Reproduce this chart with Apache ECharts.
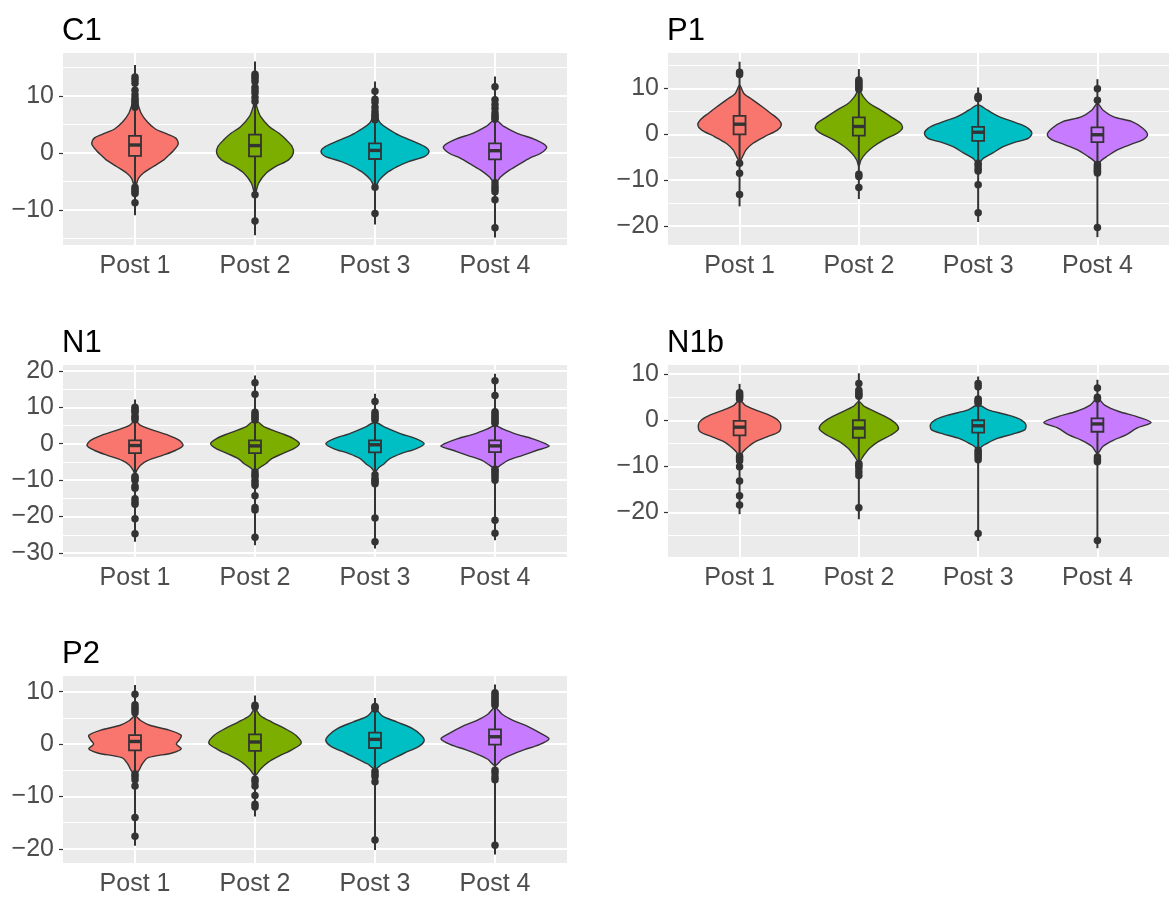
<!DOCTYPE html>
<html>
<head>
<meta charset="utf-8">
<script src="https://cdn.jsdelivr.net/npm/echarts@6/dist/echarts.min.js"></script>
<style>
  html, body { margin: 0; padding: 0; background: #fff; }
  #chart { width: 1169px; height: 897px; }
</style>
</head>
<body>
<div id="chart"></div>
<script>
const categories = ['Post 1', 'Post 2', 'Post 3', 'Post 4'];
const panelNames = ['C1', 'P1', 'N1', 'N1b', 'P2'];
const fillColors = ['#F8766D', '#7CAE00', '#00BFC4', '#C77CFF'];

// y range of each panel and its tick values
const yRanges = [[-16.1, 17.5], [-24.1, 17.7], [-31.1, 21.6], [-29.7, 12.0], [-22.7, 13.0]];
const majorTicks = [[-10, 0, 10], [-20, -10, 0, 10], [-30, -20, -10, 0, 10, 20], [-20, -10, 0, 10], [-20, -10, 0, 10]];
const minorTicks = [[-15, -5, 5, 15], [-15, -5, 5, 15], [-25, -15, -5, 5, 15], [-25, -15, -5, 5], [-15, -5, 5]];

// violin outline per group: [value, half width in category units], bottom to top
const c1Violins = [
    [[-5.9, 0], [-4.4, 0.03], [-3.5, 0.07], [-2.4, 0.15], [-1.2, 0.24], [-0.6, 0.27], [0.4, 0.32], [1.6, 0.36], [2.6, 0.34], [3.3, 0.27], [4.2, 0.17], [5.5, 0.1], [7.0, 0.05], [8.5, 0.025], [9.6, 0]],
    [[-7.1, 0], [-5.3, 0.03], [-3.6, 0.09], [-2.4, 0.17], [-1.2, 0.28], [0, 0.32], [1.1, 0.31], [2.3, 0.26], [3.45, 0.2], [4.6, 0.12], [6.4, 0.046], [8.1, 0.015], [9.3, 0]],
    [[-5.9, 0], [-4.7, 0.037], [-3.6, 0.09], [-2.4, 0.185], [-1.5, 0.28], [-0.6, 0.415], [0.2, 0.45], [1.1, 0.415], [2.3, 0.29], [3.45, 0.17], [5.2, 0.046], [7.0, 0]],
    [[-5.3, 0], [-4.2, 0.046], [-3.0, 0.12], [-1.8, 0.215], [-0.9, 0.29], [0, 0.385], [1.1, 0.43], [2.3, 0.34], [3.45, 0.185], [4.6, 0.077], [5.8, 0]]
];
const p1Violins = [
    [[-5.9, 0], [-4.9, 0.024], [-3.4, 0.054], [-2.0, 0.11], [-0.5, 0.21], [0.9, 0.317], [2.0, 0.35], [3.1, 0.33], [4.6, 0.26], [6.0, 0.19], [7.5, 0.11], [8.9, 0.036], [10.7, 0]],
    [[-7.0, 0], [-5.6, 0.018], [-4.1, 0.06], [-2.7, 0.12], [-1.2, 0.21], [0.2, 0.32], [1.3, 0.365], [2.4, 0.35], [3.8, 0.27], [5.3, 0.18], [6.7, 0.09], [8.2, 0.036], [9.6, 0]],
    [[-6.3, 0], [-5.2, 0.045], [-4.1, 0.12], [-2.7, 0.21], [-1.8, 0.3], [-0.9, 0.42], [0.2, 0.45], [1.3, 0.42], [2.4, 0.33], [3.8, 0.18], [5.3, 0.075], [6.4, 0]],
    [[-7.0, 0], [-5.9, 0.024], [-4.9, 0.075], [-3.4, 0.166], [-2.1, 0.29], [-1.2, 0.38], [-0.1, 0.42], [1.3, 0.38], [2.75, 0.29], [3.8, 0.136], [5.3, 0.045], [6.7, 0]]
];
const n1Violins = [
    [[-8.4, 0], [-7.3, 0.015], [-5.9, 0.046], [-4.6, 0.108], [-3.2, 0.23], [-1.8, 0.34], [-0.5, 0.4], [0.9, 0.37], [2.3, 0.28], [3.65, 0.154], [5.0, 0.046], [6.4, 0]],
    [[-8.2, 0], [-6.8, 0.03], [-5.5, 0.09], [-4.1, 0.14], [-2.7, 0.23], [-1.4, 0.32], [0, 0.37], [1.4, 0.32], [2.7, 0.23], [4.6, 0.077], [6.4, 0]],
    [[-7.8, 0], [-6.6, 0.03], [-5.5, 0.077], [-4.1, 0.123], [-2.7, 0.216], [-1.4, 0.34], [0, 0.41], [1.4, 0.34], [2.7, 0.216], [4.6, 0.077], [5.9, 0]],
    [[-6.8, 0], [-5.9, 0.046], [-4.6, 0.108], [-3.2, 0.23], [-1.8, 0.35], [-0.7, 0.45], [0, 0.42], [1.4, 0.31], [2.7, 0.17], [4.1, 0.06], [5.0, 0]]
];
const n1bViolins = [
    [[-7.9, 0], [-6.8, 0.03], [-5.7, 0.075], [-4.6, 0.136], [-3.6, 0.23], [-2.5, 0.33], [-1.0, 0.345], [0.1, 0.317], [1.2, 0.24], [2.2, 0.136], [3.3, 0.045], [4.4, 0]],
    [[-9.0, 0], [-7.5, 0.045], [-6.1, 0.09], [-4.6, 0.166], [-3.2, 0.27], [-2.0, 0.33], [-1.0, 0.32], [0.1, 0.27], [1.5, 0.166], [3.0, 0.045], [4.1, 0]],
    [[-6.8, 0], [-5.7, 0.03], [-5.0, 0.075], [-3.9, 0.166], [-3.0, 0.29], [-2.1, 0.39], [-1.0, 0.4], [0.1, 0.36], [1.2, 0.24], [2.2, 0.09], [3.3, 0]],
    [[-7.2, 0], [-5.7, 0.045], [-4.3, 0.136], [-3.2, 0.24], [-1.7, 0.33], [-0.5, 0.45], [0.8, 0.33], [1.9, 0.18], [3.3, 0.06], [4.8, 0]]
];
const p2Violins = [
    [[-5.7, 0], [-5.1, 0.03], [-3.8, 0.06], [-2.6, 0.11], [-1.7, 0.31], [-0.9, 0.385], [0, 0.345], [0.8, 0.37], [1.7, 0.385], [2.7, 0.28], [3.6, 0.123], [4.5, 0.046], [5.4, 0]],
    [[-6.0, 0], [-4.75, 0.046], [-3.5, 0.108], [-2.3, 0.2], [-1.05, 0.31], [0.2, 0.385], [1.7, 0.34], [3.0, 0.246], [4.2, 0.14], [5.4, 0.046], [6.7, 0]],
    [[-4.75, 0], [-3.8, 0.06], [-2.9, 0.14], [-1.7, 0.246], [-0.4, 0.37], [0.7, 0.41], [1.7, 0.385], [3.0, 0.31], [4.2, 0.185], [5.4, 0.06], [6.7, 0]],
    [[-4.1, 0], [-2.9, 0.06], [-2.0, 0.14], [-1.05, 0.246], [-0.1, 0.37], [1.0, 0.45], [2.0, 0.385], [3.3, 0.28], [4.5, 0.154], [5.7, 0.06], [7.0, 0]]
];

// [line low, q1, median, q3, line high]
const c1Boxes = [[-10.9, -0.5, 1.4, 3.0, 15.4], [-14.4, -0.6, 1.3, 3.2, 16.0], [-12.5, -1.05, 0.45, 1.7, 12.5], [-14.8, -1.1, 0.4, 1.7, 13.4]];
const p1Boxes = [[-15.7, 0, 2.2, 4.0, 15.8], [-14.1, -0.3, 1.7, 3.7, 14.2], [-19.1, -1.45, 0.45, 1.6, 10.2], [-22.4, -1.7, -0.1, 1.5, 12.0]];
const n1Boxes = [[-26.9, -2.6, -0.5, 0.9, 12.1], [-27.9, -2.6, -0.6, 0.9, 18.7], [-28.8, -2.4, -0.3, 0.9, 13.7], [-26.5, -2.3, -0.6, 0.9, 19.2]];
const n1bBoxes = [[-20.4, -3.3, -1.5, -0.15, 7.9], [-21.5, -3.8, -1.7, 0, 10.2], [-26.2, -2.7, -1.2, 0, 9.5], [-27.8, -2.5, -0.8, 0.4, 8.8]];
const p2Boxes = [[-19.4, -1.2, 0.5, 1.7, 11.3], [-13.8, -1.3, 0.4, 1.85, 9.3], [-20.2, -0.75, 0.9, 2.2, 8.8], [-21.1, -0.1, 1.4, 2.8, 11.4]];

const c1Outliers = [
    [13.3, 12.8, 12.2, 11.0, 10.2, 9.6, 9.2, 8.8, 8.4, 8.0, -6.0, -6.4, -6.8, -7.1, -8.7],
    [13.8, 13.4, 13.0, 12.5, 11.5, 11.0, 10.5, 9.7, 9.0, -7.3, -11.9],
    [10.8, 9.4, 8.9, 8.0, 7.3, 6.8, 6.5, 6.2, 5.8, -6.0, -10.6],
    [11.6, 9.3, 8.5, 7.8, 7.0, 6.5, 6.2, 5.9, -5.2, -5.8, -6.3, -6.8, -8.2, -13.1]
];
const p1Outliers = [
    [13.5, 13.0, -6.3, -8.5, -13.1],
    [11.8, 11.4, 11.0, 10.6, 10.2, 9.8, -8.7, -9.2, -11.6],
    [8.3, 8.0, 7.8, -6.3, -6.8, -7.5, -8.0, -11.0, -17.1],
    [9.9, 7.4, -6.6, -7.0, -7.4, -7.8, -8.1, -8.4, -20.3]
];
const n1Outliers = [
    [10.0, 9.5, 9.0, 8.6, 7.6, 7.1, 6.6, -9.0, -9.5, -10.0, -11.7, -12.2, -15.1, -16.0, -16.6, -20.6, -24.7],
    [16.7, 13.6, 8.6, 8.0, 7.5, 7.0, 6.5, -7.8, -8.5, -9.0, -10.0, -10.8, -11.5, -14.3, -17.5, -18.2, -25.7],
    [11.6, 8.6, 8.0, 7.5, 7.0, 6.5, -8.5, -9.5, -10.0, -10.5, -11.0, -20.4, -26.9],
    [17.3, 13.2, 8.8, 8.2, 7.6, 7.1, 6.6, 6.1, 5.6, -7.0, -7.5, -8.0, -8.6, -9.2, -10.0, -21.0, -24.6]
];
const n1bOutliers = [
    [6.0, 5.6, 5.3, 5.0, 4.6, -7.8, -8.3, -8.8, -10.1, -13.2, -16.4, -18.4],
    [8.0, 6.5, 6.0, 5.6, 5.2, -9.4, -9.8, -10.3, -11.2, -12.0, -19.0],
    [8.0, 7.3, 4.6, 4.3, 4.0, 3.7, -6.5, -7.0, -7.5, -8.0, -8.6, -24.6],
    [7.0, 5.0, 4.6, -8.0, -8.5, -9.0, -26.1]
];
const p2Outliers = [
    [9.5, 7.5, 7.0, 6.5, 6.0, -5.7, -6.2, -6.8, -8.0, -14.0, -17.6],
    [7.4, 7.1, -6.7, -7.2, -8.0, -9.8, -11.5, -12.0],
    [7.2, 7.0, 6.7, -5.2, -5.7, -6.2, -7.2, -18.3],
    [9.8, 9.4, 9.0, 8.6, 8.2, 7.8, 7.4, -5.0, -5.5, -6.3, -6.8, -19.3]
];

const allViolins = [c1Violins, p1Violins, n1Violins, n1bViolins, p2Violins];
const allBoxes = [c1Boxes, p1Boxes, n1Boxes, n1bBoxes, p2Boxes];
const allOutliers = [c1Outliers, p1Outliers, n1Outliers, n1bOutliers, p2Outliers];

// panel boxes in pixels: left, top
const panelPos = [[63, 53], [668, 53], [63, 365], [668, 365], [63, 676]];
const panelW = 504, panelH = 192;

const FONT = 'Liberation Sans, Arial, sans-serif';
const INK = '#333333';

const fmtNum = (v) => v < 0 ? '\u2212' + (-v) : String(v);

const makeRenderer = (violins, boxes) => (params, api) => {
    const i = params.dataIndex;
    const x = api.value(0);
    const shape = violins[i];
    const right = shape.map(p => api.coord([x + p[1], p[0]]));
    const left = shape.slice(1, -1).reverse().map(p => api.coord([x - p[1], p[0]]));
    const [lo, q1, med, q3, hi] = boxes[i];
    const top = api.coord([x, hi]);
    const bottom = api.coord([x, lo]);
    const b1 = api.coord([x - 0.05, q3]);
    const b2 = api.coord([x + 0.05, q1]);
    const m1 = api.coord([x - 0.05, med]);
    const m2 = api.coord([x + 0.05, med]);
    return {
        type: 'group',
        children: [
            { type: 'polygon', shape: { points: right.concat(left), smooth: 0.3 },
              style: { fill: fillColors[i], stroke: INK, lineWidth: 1.4 } },
            { type: 'line', shape: { x1: top[0], y1: top[1], x2: bottom[0], y2: bottom[1] },
              style: { stroke: INK, lineWidth: 2 } },
            { type: 'rect', shape: { x: b1[0], y: b1[1], width: b2[0] - b1[0], height: b2[1] - b1[1] },
              style: { fill: fillColors[i], stroke: INK, lineWidth: 1.8 } },
            { type: 'line', shape: { x1: m1[0], y1: m1[1], x2: m2[0], y2: m2[1] },
              style: { stroke: INK, lineWidth: 3.4 } }
        ]
    };
};

const grids = [], xAxes = [], yAxes = [], titles = [], series = [];

panelNames.forEach((name, k) => {
    const [left, top] = panelPos[k];
    grids.push({ left, top, width: panelW, height: panelH, show: true,
                 backgroundColor: '#EBEBEB', borderWidth: 0 });
    titles.push({ text: name, left: left - 1, top: top - 37, padding: 0,
                  textStyle: { fontFamily: FONT, fontSize: 31, fontWeight: 'normal', color: '#000' } });

    xAxes.push({
        gridIndex: k, type: 'value', min: 0.4, max: 4.6,
        axisLine: { show: false },
        axisTick: { show: true, customValues: [1, 2, 3, 4], length: 4, lineStyle: { color: INK, width: 1.2 } },
        axisLabel: { customValues: [1, 2, 3, 4], formatter: v => categories[Math.round(v) - 1],
                     color: '#4D4D4D', fontSize: 25, fontFamily: FONT, margin: 9 },
        splitLine: { show: true, lineStyle: { color: '#fff', width: 2 } }
    });
    const [ymin, ymax] = yRanges[k];
    // minor grid lines
    yAxes.push({
        gridIndex: k, type: 'value', min: ymin, max: ymax, position: 'left',
        axisLine: { show: false },
        axisTick: { show: false, customValues: minorTicks[k] },
        axisLabel: { show: false, customValues: minorTicks[k] },
        splitLine: { show: true, lineStyle: { color: '#fff', width: 1 } }
    });
    // major ticks, labels and grid lines
    yAxes.push({
        gridIndex: k, type: 'value', min: ymin, max: ymax, position: 'left',
        axisLine: { show: false },
        axisTick: { show: true, customValues: majorTicks[k], length: 4, lineStyle: { color: INK, width: 1.2 } },
        axisLabel: { customValues: majorTicks[k], formatter: fmtNum,
                     color: '#4D4D4D', fontSize: 25, fontFamily: FONT, margin: 9 },
        splitLine: { show: true, lineStyle: { color: '#fff', width: 2 } }
    });

    const violins = allViolins[k];
    const boxes = allBoxes[k];
    series.push({
        type: 'custom', xAxisIndex: k, yAxisIndex: 2 * k + 1,
        data: boxes.map((b, i) => [i + 1, b[2]]),
        renderItem: makeRenderer(violins, boxes),
        silent: true, z: 2
    });
    const pts = [];
    allOutliers[k].forEach((list, i) => list.forEach(v => pts.push([i + 1, v])));
    series.push({
        type: 'scatter', xAxisIndex: k, yAxisIndex: 2 * k + 1,
        data: pts, symbolSize: 7.5, itemStyle: { color: INK, opacity: 1 },
        silent: true, z: 3
    });
});

const chart = echarts.init(document.getElementById('chart'), null, { renderer: 'canvas' });
chart.setOption({
    animation: false,
    backgroundColor: '#fff',
    title: titles,
    grid: grids,
    xAxis: xAxes,
    yAxis: yAxes,
    series
});
</script>
</body>
</html>
